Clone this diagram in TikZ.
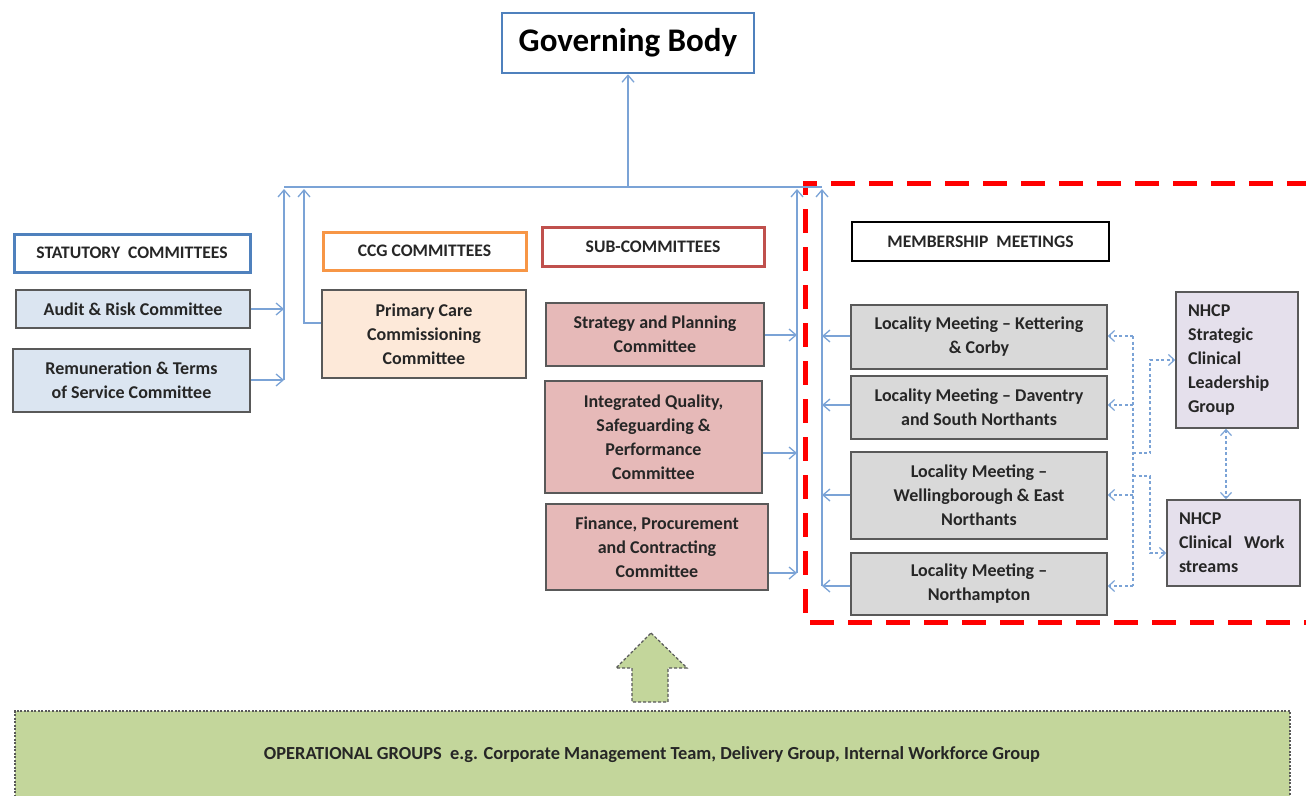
\documentclass[tikz,border=0pt]{standalone}
\usepackage{fontspec}
\setmainfont{Carlito}
\usetikzlibrary{arrows.meta}

\definecolor{linkblue}{HTML}{7BA3D6}
\definecolor{headblue}{HTML}{4F81BD}
\definecolor{headorange}{HTML}{F79646}
\definecolor{headred}{HTML}{C0504D}
\definecolor{boxgray}{HTML}{595959}
\definecolor{inkdark}{HTML}{262626}
\definecolor{fillblue}{HTML}{DBE5F1}
\definecolor{fillpeach}{HTML}{FDE9D9}
\definecolor{fillrose}{HTML}{E6B9B8}
\definecolor{fillgray}{HTML}{D9D9D9}
\definecolor{filllilac}{HTML}{E5E0EC}
\definecolor{fillgreen}{HTML}{C3D69B}
\definecolor{memred}{HTML}{FF0000}

\newcommand\bodytext{\fontsize{18}{24}\selectfont\bfseries}
\newcommand\headtext{\fontsize{17.6}{20}\selectfont\bfseries}

\tikzset{
  plainbox/.style={draw=boxgray, line width=1.5pt, inner sep=0pt, align=center,
                   text=inkdark, font=\bodytext},
  headbox/.style={draw=#1, fill=white, line width=3pt, inner sep=0pt, align=center,
                  text=inkdark, font=\headtext},
  link/.style={draw=linkblue, line width=1.4pt},
  linkarrow/.style={link, -{Straight Barb[length=7pt,width=12pt,line width=1.3pt]}},
  dashlink/.style={draw=linkblue, line width=1.3pt, dash pattern=on 3pt off 2.5pt},
  dasharrow/.style={dashlink, -{Straight Barb[length=6pt,width=11pt,line width=1.2pt]}},
  dashboth/.style={dashlink, {Straight Barb[length=6pt,width=11pt,line width=1.2pt]}-{Straight Barb[length=6pt,width=11pt,line width=1.2pt]}},
}

\begin{document}
\begin{tikzpicture}[x=1pt,y=-1pt]
\useasboundingbox (0,0) rectangle (1306,795);
\clip (0,0) rectangle (1306,795);

% governing body
\node[draw=headblue, line width=2.5pt, inner sep=0pt, minimum width=252pt, minimum height=60pt,
      font=\fontsize{33}{36}\selectfont\bfseries, text=black] (gov) at (628,43) {Governing Body};

% membership area (red dashed frame)
\draw[memred, line width=5pt, dash pattern=on 24pt off 14pt, dash phase=19pt]
  (1330,183) -- (805,183) -- (805,622) -- (1330,622);

% statutory committees
\node[headbox=headblue, minimum width=236pt, minimum height=38pt] (stat) at (132,253) {STATUTORY\ \ COMMITTEES};
\node[plainbox, fill=fillblue, minimum width=234pt, minimum height=38pt] (audit) at (133,309) {Audit \& Risk Committee};
\node[plainbox, fill=fillblue, minimum width=237pt, minimum height=63pt] (remun) at (131.5,380.5) {Remuneration \& Terms\\of Service Committee};

% CCG committees
\node[headbox=headorange, minimum width=203pt, minimum height=38pt] (ccg) at (424.5,251) {CCG COMMITTEES};
\node[plainbox, fill=fillpeach, minimum width=204pt, minimum height=88pt] (pcc) at (424,334) {Primary Care\\Commissioning\\Committee};

% sub-committees
\node[headbox=headred, minimum width=222pt, minimum height=39pt] (sub) at (653,246.5) {SUB-COMMITTEES};
\node[plainbox, fill=fillrose, minimum width=218pt, minimum height=63pt] (strat) at (655,334.5) {Strategy and Planning\\Committee};
\node[plainbox, fill=fillrose, minimum width=217pt, minimum height=112pt] (iq) at (653.5,437) {Integrated Quality,\\Safeguarding \&\\Performance\\Committee};
\node[plainbox, fill=fillrose, minimum width=222pt, minimum height=86pt] (fin) at (657,547) {Finance, Procurement\\and Contracting\\Committee};

% membership meetings
\node[headbox=black, line width=2.5pt, minimum width=257pt, minimum height=39pt] (mem) at (980.5,241.5) {MEMBERSHIP\ \ MEETINGS};
\node[plainbox, fill=fillgray, minimum width=256pt, minimum height=64pt] (loc1) at (979,337) {Locality Meeting -- Kettering\\\& Corby};
\node[plainbox, fill=fillgray, minimum width=256pt, minimum height=63pt] (loc2) at (979,407.5) {Locality Meeting -- Daventry\\and South Northants};
\node[plainbox, fill=fillgray, minimum width=256pt, minimum height=87pt] (loc3) at (979,495.5) {Locality Meeting --\\Wellingborough \& East\\Northants};
\node[plainbox, fill=fillgray, minimum width=256pt, minimum height=62pt] (loc4) at (979,584) {Locality Meeting --\\Northampton};

% NHCP groups
\node[plainbox, fill=filllilac, minimum width=122pt, minimum height=136pt, align=left,
      text width=98pt] (nhcpa) at (1237,360) {NHCP\\Strategic\\Clinical\\Leadership\\Group};
\node[plainbox, fill=filllilac, minimum width=133pt, minimum height=86pt, align=left,
      text width=109pt] (nhcpb) at (1233.5,543) {NHCP\\Clinical\ \ Work\\streams};

% operational groups
\node[draw=boxgray, line width=1.2pt, dash pattern=on 2pt off 1.5pt, fill=fillgreen,
      minimum width=1275pt, minimum height=100pt, inner sep=0pt] (ops) at (652.5,761) {};
\node[font=\fontsize{18.4}{22}\selectfont\bfseries, text=inkdark] (opstext) at (652,755)
  {OPERATIONAL GROUPS\ \ e.g. Corporate Management Team, Delivery Group, Internal Workforce Group};

% upward block arrow
\draw[fill=fillgreen, draw=boxgray, line width=1.2pt, dash pattern=on 3pt off 2pt]
  (651,633) -- (687,668) -- (668,668) -- (668,702) -- (632,702) -- (632,668) -- (616,668) -- cycle;

% reporting lines into the governing body
\coordinate (busL) at (284,187);
\coordinate (busR) at (822,187);
\coordinate (busG) at (628,187);
\draw[link] (busL) -- (busR);
\draw[linkarrow] (busG) -- (gov.south);

\coordinate (statA) at (284,309);
\coordinate (statB) at (284,380);
\draw[linkarrow] (statB) -- (284,189);
\draw[linkarrow] (audit.east |- statA) -- (statA);
\draw[linkarrow] (remun.east |- statB) -- (statB);

\coordinate (ccgA) at (304,323);
\draw[linkarrow] (pcc.west |- ccgA) -- (ccgA) -- (304,189);

\coordinate (subA) at (797,335);
\coordinate (subB) at (797,453);
\coordinate (subC) at (797,573);
\draw[linkarrow] (subC) -- (797,189);
\draw[linkarrow] (strat.east |- subA) -- (subA);
\draw[linkarrow] (iq.east |- subB) -- (subB);
\draw[linkarrow] (fin.east |- subC) -- (subC);

\coordinate (memA) at (822,336);
\coordinate (memB) at (822,405);
\coordinate (memC) at (822,495);
\coordinate (memD) at (822,586);
\draw[linkarrow] (memD) -- (822,189);
\draw[linkarrow] (loc1.west |- memA) -- (memA);
\draw[linkarrow] (loc2.west |- memB) -- (memB);
\draw[linkarrow] (loc3.west |- memC) -- (memC);
\draw[linkarrow] (loc4.west |- memD) -- (memD);

% dashed links between localities and NHCP groups
\coordinate (trA) at (1133,336);
\coordinate (trB) at (1133,405);
\coordinate (trC) at (1133,495);
\coordinate (trD) at (1133,586);
\draw[dashlink] (trA) -- (trD);
\draw[dasharrow] (trA) -- (loc1.east |- trA);
\draw[dasharrow] (trB) -- (loc2.east |- trB);
\draw[dasharrow] (trC) -- (loc3.east |- trC);
\draw[dasharrow] (trD) -- (loc4.east |- trD);
\draw[dasharrow] (1133,453) -- (1150,453) -- (1150,360) -- (nhcpa.west |- 0,360);
\draw[dasharrow] (1133,476) -- (1150,476) -- (1150,553) -- (nhcpb.west |- 0,553);
\draw[dashboth] (nhcpa.south -| 1226,0) -- (nhcpb.north -| 1226,0);

\end{tikzpicture}
\end{document}
